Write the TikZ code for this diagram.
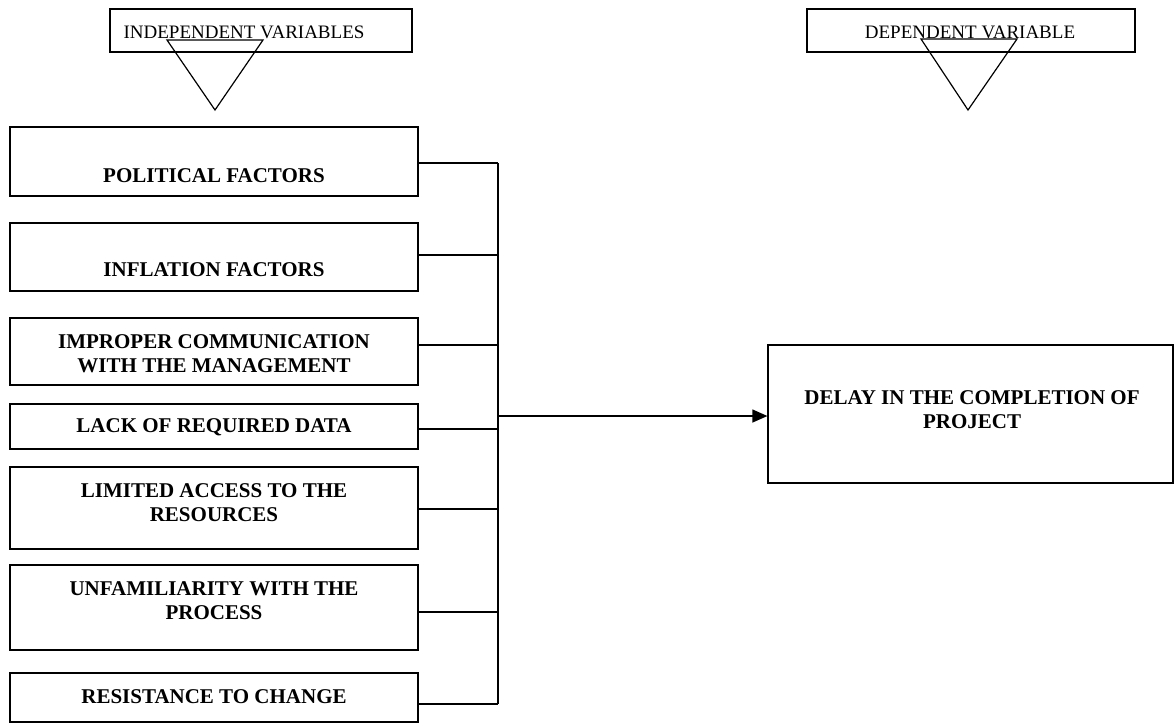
\documentclass[tikz,border=0pt]{standalone}
\usepackage{fontspec}
\setmainfont{Liberation Serif}
\usetikzlibrary{arrows.meta}
\begin{document}
\begin{tikzpicture}[x=1pt,y=-1pt,line width=1.2pt,
  box/.style={draw,rectangle,inner sep=0pt,minimum width=408pt},
  hbox/.style={draw,rectangle,inner sep=0pt,minimum height=43pt},
  lbl/.style={font=\fontsize{21}{24}\selectfont\bfseries,align=center,inner sep=0pt},
  hdr/.style={font=\fontsize{19}{23}\selectfont,inner sep=0pt},
  link/.style={line width=1.2pt},
  arr/.style={line width=1.2pt,-{Triangle[length=15pt,width=13pt]}}]
\useasboundingbox (0,0) rectangle (1174,724);
% headers
\node[hbox,minimum width=302pt] (h1) at (261,30.5) {};
\node[hdr] (h1t) at (244,32) {INDEPENDENT VARIABLES};
\draw (167,40) -- (263,40) -- (215,110) -- cycle;
\node[hbox,minimum width=328pt] (h2) at (971,30.5) {};
\node[hdr] (h2t) at (970,32) {DEPENDENT VARIABLE};
\draw (921,39) -- (1017,39) -- (968,110) -- cycle;
% independent boxes
\node[box,minimum height=69pt] (b1) at (214,161.5) {};
\node[box,minimum height=68pt] (b2) at (214,257) {};
\node[box,minimum height=67pt] (b3) at (214,351.5) {};
\node[box,minimum height=45pt] (b4) at (214,426.5) {};
\node[box,minimum height=82pt] (b5) at (214,508) {};
\node[box,minimum height=85pt] (b6) at (214,607.5) {};
\node[box,minimum height=49pt] (b7) at (214,697.5) {};
\node[lbl] (t1) at (214,176) {POLITICAL FACTORS};
\node[lbl] (t2) at (214,270) {INFLATION FACTORS};
\node[lbl] (t3) at (214,354) {IMPROPER COMMUNICATION\\WITH THE MANAGEMENT};
\node[lbl] (t4) at (214,427) {LACK OF REQUIRED DATA};
\node[lbl] (t5) at (214,503) {LIMITED ACCESS TO THE\\RESOURCES};
\node[lbl] (t6) at (214,601) {UNFAMILIARITY WITH THE\\PROCESS};
\node[lbl] (t7) at (214,697) {RESISTANCE TO CHANGE};
% dependent box
\node[draw,rectangle,inner sep=0pt,minimum width=405pt,minimum height=138pt] (dl) at (970.5,414) {};
\node[lbl] (dt) at (972,410) {DELAY IN THE COMPLETION OF\\PROJECT};
% bus
\coordinate (bt) at (498,163);
\coordinate (bb) at (498,704);
\draw[link] (bt) -- (bb);
\draw[link] (b1.east |- bt) -- (bt);
\draw[link] (b2.east |- 0,255) -- (bt |- 0,255);
\draw[link] (b3.east |- 0,345) -- (bt |- 0,345);
\draw[link] (b4.east |- 0,429) -- (bt |- 0,429);
\draw[link] (b5.east |- 0,509) -- (bt |- 0,509);
\draw[link] (b6.east |- 0,612) -- (bt |- 0,612);
\draw[link] (b7.east |- bb) -- (bb);
\draw[arr] (bt |- 0,416) -- (dl.west |- 0,416);
\end{tikzpicture}
\end{document}
